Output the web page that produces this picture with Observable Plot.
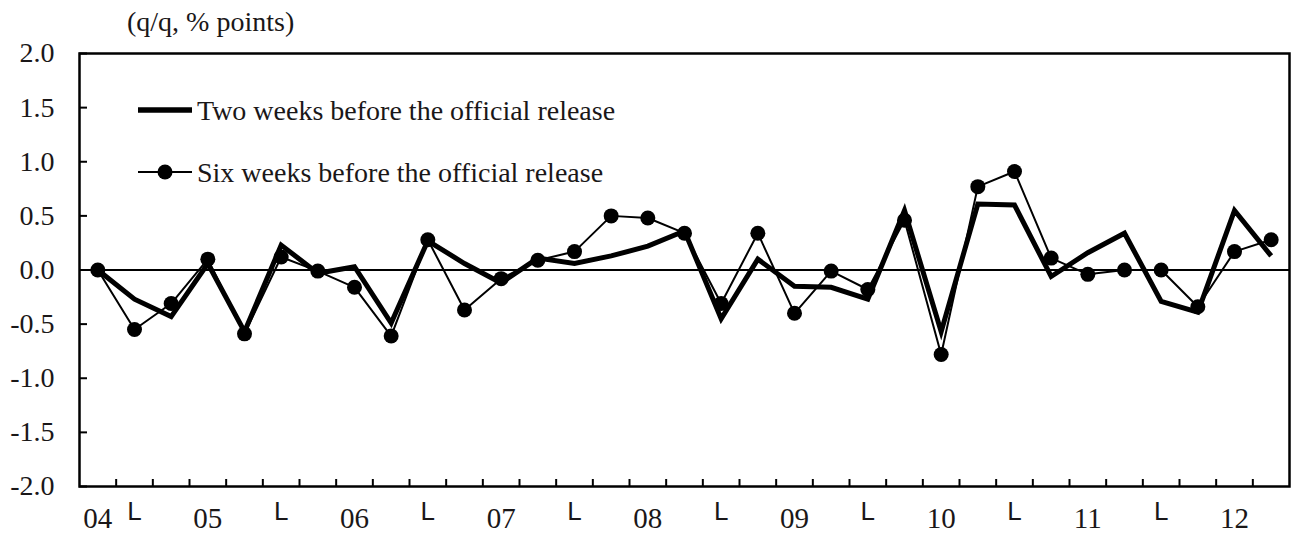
<!DOCTYPE html>
<html>
<head>
<meta charset="utf-8">
<script src="https://cdn.jsdelivr.net/npm/d3@7"></script>
<script src="https://cdn.jsdelivr.net/npm/@observablehq/plot@0.6"></script>
<style>
  html, body { margin: 0; padding: 0; background: #fff; }
  #chart svg { display: block; }
</style>
</head>
<body>
<div id="chart"></div>
<script>
// Quarter index (2004 ... 2012), one per observation
const quarters = [0,1,2,3,4,5,6,7,8,9,10,11,12,13,14,15,16,17,18,19,20,21,22,23,24,25,26,27,28,29,30,31,32];

// Two weeks before the official release (thick line)
const twoWeeks = [0.00,-0.27,-0.43,0.06,-0.57,0.23,-0.03,0.03,-0.49,0.27,0.06,-0.12,0.11,0.06,0.13,0.22,0.36,-0.45,0.10,-0.15,-0.16,-0.27,0.55,-0.57,0.61,0.60,-0.06,0.16,0.34,-0.29,-0.39,0.55,0.13];

// Six weeks before the official release (thin line with dots)
const sixWeeks = [0.00,-0.55,-0.31,0.10,-0.59,0.12,-0.01,-0.16,-0.61,0.28,-0.37,-0.08,0.09,0.17,0.50,0.48,0.34,-0.31,0.34,-0.40,-0.01,-0.18,0.46,-0.78,0.77,0.91,0.11,-0.04,0.00,0.00,-0.34,0.17,0.28];

// X-axis labels
const yearPos   = [0,3,7,11,15,19,23,27,31];
const yearText  = ["04","05","06","07","08","09","10","11","12"];
const halfPos   = [1,5,9,13,17,21,25,29];
const halfText  = ["L","L","L","L","L","L","L","L"];
const xTickBounds = [0.5,1.5,2.5,3.5,4.5,5.5,6.5,7.5,8.5,9.5,10.5,11.5,12.5,13.5,14.5,15.5,16.5,17.5,18.5,19.5,20.5,21.5,22.5,23.5,24.5,25.5,26.5,27.5,28.5,29.5,30.5,31.5];

// Y-axis ticks
const yTicks = [-2.0,-1.5,-1.0,-0.5,0.0,0.5,1.0,1.5,2.0];

const unitLabel = "(q/q, % points)";
const seriesNames = ["Two weeks before the official release", "Six weeks before the official release"];

const rows = quarters.map((q, i) => ({q, two: twoWeeks[i], six: sixWeeks[i]}));
const yearRows = yearPos.map((p, i) => ({pos: p, label: yearText[i]}));
const halfRows = halfPos.map((p, i) => ({pos: p, label: halfText[i]}));

const serif = "'Liberation Serif', 'Times New Roman', serif";
const ink = "#1a1718";

const plot = Plot.plot({
  width: 1295,
  height: 541,
  marginLeft: 79,
  marginRight: 6,
  marginTop: 53,
  marginBottom: 55,
  x: {domain: [-0.5, 32.5]},
  y: {domain: [-2, 2]},
  style: {fontFamily: serif, color: ink, background: "#fff", overflow: "visible"},
  marks: [
    Plot.ruleY([0], {stroke: "#000", strokeWidth: 2}),
    Plot.line(rows, {x: "q", y: "two", stroke: "#000", strokeWidth: 5, strokeLinejoin: "miter", strokeMiterlimit: 10, strokeLinecap: "butt"}),
    Plot.line(rows, {x: "q", y: "six", stroke: "#000", strokeWidth: 2, strokeLinejoin: "miter"}),
    Plot.dot(rows, {x: "q", y: "six", r: 7.5, fill: "#000", stroke: null}),
    Plot.frame({stroke: "#000", strokeWidth: 2.5}),
    Plot.axisY(yTicks, {tickSize: -8, tickPadding: 33, strokeWidth: 2, stroke: "#000", tickFormat: d => d.toFixed(1), fontSize: 28, fill: ink}),
    Plot.axisX(xTickBounds, {tickSize: -7, strokeWidth: 2, stroke: "#000", tickFormat: () => ""}),
    Plot.text(yearRows, {x: "pos", text: "label", frameAnchor: "bottom", dy: 41, fontSize: 29, fill: ink}),
    Plot.text(halfRows, {x: "pos", text: "label", frameAnchor: "bottom", dy: 33, fontSize: 26, fontFamily: "'Liberation Sans', Arial, sans-serif", fill: ink})
  ]
});

document.getElementById("chart").appendChild(plot);

// Unit label and legend
const svg = d3.select(plot);
svg.append("text")
  .attr("x", 127).attr("y", 31)
  .attr("text-anchor", "start")
  .attr("font-size", 28).attr("font-family", serif).attr("fill", ink)
  .text(unitLabel);

const lg = svg.append("g").attr("font-family", serif).attr("font-size", 28).attr("fill", ink).attr("text-anchor", "start");
lg.append("line").attr("x1", 138).attr("x2", 192).attr("y1", 110).attr("y2", 110)
  .attr("stroke", "#000").attr("stroke-width", 5.5);
lg.append("text").attr("x", 197).attr("y", 120).text(seriesNames[0]);
lg.append("line").attr("x1", 138).attr("x2", 192).attr("y1", 172).attr("y2", 172)
  .attr("stroke", "#000").attr("stroke-width", 2);
lg.append("circle").attr("cx", 165).attr("cy", 172).attr("r", 7.5).attr("fill", "#000");
lg.append("text").attr("x", 197).attr("y", 182).text(seriesNames[1]);
</script>
</body>
</html>
